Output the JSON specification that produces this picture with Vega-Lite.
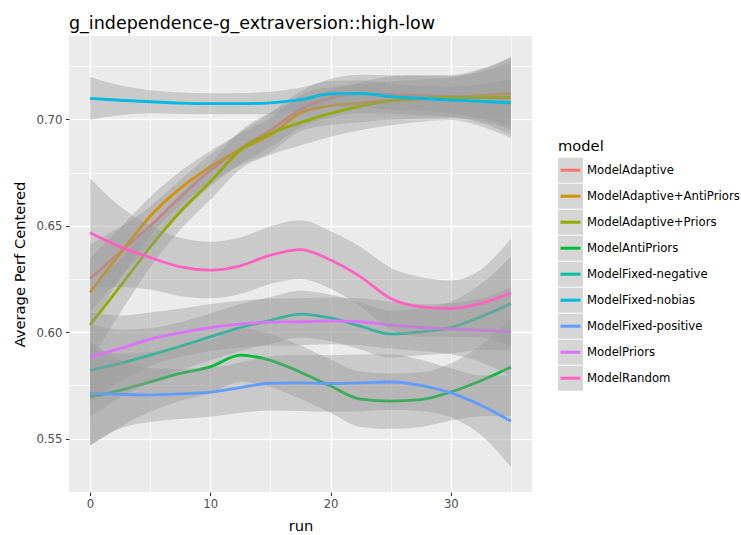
{
"$schema": "https://vega.github.io/schema/vega-lite/v6.json",
"width": 463, "height": 456,
"autosize": {"type": "none"},
"padding": {"left": 69, "top": 36, "right": 209, "bottom": 43},
"background": "white",
"title": {"text": "g_independence-g_extraversion::high-low", "anchor": "start", "frame": "group", "baseline": "alphabetic", "offset": -10, "font": "DejaVu Sans", "fontSize": 17.5, "fontWeight": "normal", "color": "black"},
"data": {"values": [
{"model":"ModelAdaptive","run":0,"y":0.6252,"lo":0.6092,"hi":0.6412},
{"model":"ModelAdaptive","run":2.5,"y":0.6375,"lo":0.6255,"hi":0.6495},
{"model":"ModelAdaptive","run":5,"y":0.6500,"lo":0.6410,"hi":0.6590},
{"model":"ModelAdaptive","run":7.5,"y":0.6635,"lo":0.6555,"hi":0.6715},
{"model":"ModelAdaptive","run":10,"y":0.6760,"lo":0.6685,"hi":0.6835},
{"model":"ModelAdaptive","run":12.5,"y":0.6864,"lo":0.6789,"hi":0.6939},
{"model":"ModelAdaptive","run":15,"y":0.6950,"lo":0.6870,"hi":0.7030},
{"model":"ModelAdaptive","run":17.5,"y":0.7047,"lo":0.6962,"hi":0.7132},
{"model":"ModelAdaptive","run":20,"y":0.7100,"lo":0.7010,"hi":0.7190},
{"model":"ModelAdaptive","run":22.5,"y":0.7120,"lo":0.7030,"hi":0.7210},
{"model":"ModelAdaptive","run":25,"y":0.7117,"lo":0.7027,"hi":0.7207},
{"model":"ModelAdaptive","run":27.5,"y":0.7112,"lo":0.7020,"hi":0.7204},
{"model":"ModelAdaptive","run":30,"y":0.7108,"lo":0.7013,"hi":0.7203},
{"model":"ModelAdaptive","run":32.5,"y":0.7104,"lo":0.6984,"hi":0.7224},
{"model":"ModelAdaptive","run":35,"y":0.7100,"lo":0.6930,"hi":0.7270},
{"model":"ModelAdaptive+AntiPriors","run":0,"y":0.6187,"lo":0.6027,"hi":0.6347},
{"model":"ModelAdaptive+AntiPriors","run":2.5,"y":0.6370,"lo":0.6250,"hi":0.6490},
{"model":"ModelAdaptive+AntiPriors","run":5,"y":0.6545,"lo":0.6455,"hi":0.6635},
{"model":"ModelAdaptive+AntiPriors","run":7.5,"y":0.6676,"lo":0.6596,"hi":0.6756},
{"model":"ModelAdaptive+AntiPriors","run":10,"y":0.6777,"lo":0.6702,"hi":0.6852},
{"model":"ModelAdaptive+AntiPriors","run":12.5,"y":0.6859,"lo":0.6784,"hi":0.6934},
{"model":"ModelAdaptive+AntiPriors","run":15,"y":0.6926,"lo":0.6846,"hi":0.7006},
{"model":"ModelAdaptive+AntiPriors","run":17.5,"y":0.7030,"lo":0.6945,"hi":0.7115},
{"model":"ModelAdaptive+AntiPriors","run":20,"y":0.7064,"lo":0.6974,"hi":0.7154},
{"model":"ModelAdaptive+AntiPriors","run":22.5,"y":0.7077,"lo":0.6987,"hi":0.7167},
{"model":"ModelAdaptive+AntiPriors","run":25,"y":0.7088,"lo":0.6998,"hi":0.7178},
{"model":"ModelAdaptive+AntiPriors","run":27.5,"y":0.7096,"lo":0.7004,"hi":0.7188},
{"model":"ModelAdaptive+AntiPriors","run":30,"y":0.7102,"lo":0.7007,"hi":0.7197},
{"model":"ModelAdaptive+AntiPriors","run":32.5,"y":0.7112,"lo":0.6992,"hi":0.7232},
{"model":"ModelAdaptive+AntiPriors","run":35,"y":0.7122,"lo":0.6952,"hi":0.7292},
{"model":"ModelAdaptive+Priors","run":0,"y":0.6033,"lo":0.5863,"hi":0.6203},
{"model":"ModelAdaptive+Priors","run":2.5,"y":0.6215,"lo":0.6090,"hi":0.6340},
{"model":"ModelAdaptive+Priors","run":5,"y":0.6400,"lo":0.6305,"hi":0.6495},
{"model":"ModelAdaptive+Priors","run":7.5,"y":0.6566,"lo":0.6481,"hi":0.6651},
{"model":"ModelAdaptive+Priors","run":10,"y":0.6707,"lo":0.6622,"hi":0.6792},
{"model":"ModelAdaptive+Priors","run":12.5,"y":0.6856,"lo":0.6766,"hi":0.6946},
{"model":"ModelAdaptive+Priors","run":15,"y":0.6934,"lo":0.6834,"hi":0.7034},
{"model":"ModelAdaptive+Priors","run":17.5,"y":0.6985,"lo":0.6877,"hi":0.7093},
{"model":"ModelAdaptive+Priors","run":20,"y":0.7028,"lo":0.6918,"hi":0.7138},
{"model":"ModelAdaptive+Priors","run":22.5,"y":0.7062,"lo":0.6950,"hi":0.7174},
{"model":"ModelAdaptive+Priors","run":25,"y":0.7088,"lo":0.6973,"hi":0.7203},
{"model":"ModelAdaptive+Priors","run":27.5,"y":0.7099,"lo":0.6989,"hi":0.7209},
{"model":"ModelAdaptive+Priors","run":30,"y":0.7103,"lo":0.6997,"hi":0.7209},
{"model":"ModelAdaptive+Priors","run":32.5,"y":0.7103,"lo":0.6968,"hi":0.7238},
{"model":"ModelAdaptive+Priors","run":35,"y":0.7103,"lo":0.6913,"hi":0.7293},
{"model":"ModelAntiPriors","run":0,"y":0.5696,"lo":0.5466,"hi":0.5926},
{"model":"ModelAntiPriors","run":2.5,"y":0.5727,"lo":0.5555,"hi":0.5899},
{"model":"ModelAntiPriors","run":5,"y":0.5767,"lo":0.5626,"hi":0.5908},
{"model":"ModelAntiPriors","run":7.5,"y":0.5806,"lo":0.5678,"hi":0.5934},
{"model":"ModelAntiPriors","run":10,"y":0.5837,"lo":0.5712,"hi":0.5962},
{"model":"ModelAntiPriors","run":12.5,"y":0.5892,"lo":0.5767,"hi":0.6017},
{"model":"ModelAntiPriors","run":15,"y":0.5868,"lo":0.5743,"hi":0.5993},
{"model":"ModelAntiPriors","run":17.5,"y":0.5812,"lo":0.5687,"hi":0.5937},
{"model":"ModelAntiPriors","run":20,"y":0.5747,"lo":0.5622,"hi":0.5872},
{"model":"ModelAntiPriors","run":22.5,"y":0.5685,"lo":0.5555,"hi":0.5815},
{"model":"ModelAntiPriors","run":25,"y":0.5676,"lo":0.5546,"hi":0.5806},
{"model":"ModelAntiPriors","run":27.5,"y":0.5683,"lo":0.5555,"hi":0.5811},
{"model":"ModelAntiPriors","run":30,"y":0.5719,"lo":0.5584,"hi":0.5854},
{"model":"ModelAntiPriors","run":32.5,"y":0.5772,"lo":0.5605,"hi":0.5939},
{"model":"ModelAntiPriors","run":35,"y":0.5836,"lo":0.5606,"hi":0.6066},
{"model":"ModelFixed-negative","run":0,"y":0.5821,"lo":0.5601,"hi":0.6041},
{"model":"ModelFixed-negative","run":2.5,"y":0.5853,"lo":0.5693,"hi":0.6013},
{"model":"ModelFixed-negative","run":5,"y":0.5892,"lo":0.5765,"hi":0.6019},
{"model":"ModelFixed-negative","run":7.5,"y":0.5934,"lo":0.5821,"hi":0.6047},
{"model":"ModelFixed-negative","run":10,"y":0.5978,"lo":0.5868,"hi":0.6088},
{"model":"ModelFixed-negative","run":12.5,"y":0.6022,"lo":0.5912,"hi":0.6132},
{"model":"ModelFixed-negative","run":15,"y":0.6056,"lo":0.5946,"hi":0.6166},
{"model":"ModelFixed-negative","run":17.5,"y":0.6085,"lo":0.5975,"hi":0.6195},
{"model":"ModelFixed-negative","run":20,"y":0.6067,"lo":0.5957,"hi":0.6177},
{"model":"ModelFixed-negative","run":22.5,"y":0.6028,"lo":0.5918,"hi":0.6138},
{"model":"ModelFixed-negative","run":25,"y":0.5991,"lo":0.5881,"hi":0.6101},
{"model":"ModelFixed-negative","run":27.5,"y":0.6002,"lo":0.5892,"hi":0.6112},
{"model":"ModelFixed-negative","run":30,"y":0.6022,"lo":0.5901,"hi":0.6143},
{"model":"ModelFixed-negative","run":32.5,"y":0.6072,"lo":0.5918,"hi":0.6226},
{"model":"ModelFixed-negative","run":35,"y":0.6135,"lo":0.5915,"hi":0.6355},
{"model":"ModelFixed-nobias","run":0,"y":0.7099,"lo":0.6999,"hi":0.7199},
{"model":"ModelFixed-nobias","run":2.5,"y":0.7090,"lo":0.7020,"hi":0.7160},
{"model":"ModelFixed-nobias","run":5,"y":0.7083,"lo":0.7029,"hi":0.7137},
{"model":"ModelFixed-nobias","run":7.5,"y":0.7077,"lo":0.7027,"hi":0.7127},
{"model":"ModelFixed-nobias","run":10,"y":0.7074,"lo":0.7025,"hi":0.7123},
{"model":"ModelFixed-nobias","run":12.5,"y":0.7074,"lo":0.7024,"hi":0.7124},
{"model":"ModelFixed-nobias","run":15,"y":0.7078,"lo":0.7026,"hi":0.7130},
{"model":"ModelFixed-nobias","run":17.5,"y":0.7093,"lo":0.7037,"hi":0.7149},
{"model":"ModelFixed-nobias","run":20,"y":0.7120,"lo":0.7060,"hi":0.7180},
{"model":"ModelFixed-nobias","run":22.5,"y":0.7122,"lo":0.7060,"hi":0.7184},
{"model":"ModelFixed-nobias","run":25,"y":0.7107,"lo":0.7047,"hi":0.7167},
{"model":"ModelFixed-nobias","run":27.5,"y":0.7099,"lo":0.7041,"hi":0.7157},
{"model":"ModelFixed-nobias","run":30,"y":0.7091,"lo":0.7029,"hi":0.7153},
{"model":"ModelFixed-nobias","run":32.5,"y":0.7085,"lo":0.7005,"hi":0.7165},
{"model":"ModelFixed-nobias","run":35,"y":0.7078,"lo":0.6968,"hi":0.7188},
{"model":"ModelFixed-positive","run":0,"y":0.5713,"lo":0.5469,"hi":0.5957},
{"model":"ModelFixed-positive","run":2.5,"y":0.5708,"lo":0.5548,"hi":0.5868},
{"model":"ModelFixed-positive","run":5,"y":0.5705,"lo":0.5578,"hi":0.5832},
{"model":"ModelFixed-positive","run":7.5,"y":0.5710,"lo":0.5592,"hi":0.5828},
{"model":"ModelFixed-positive","run":10,"y":0.5718,"lo":0.5603,"hi":0.5833},
{"model":"ModelFixed-positive","run":12.5,"y":0.5740,"lo":0.5622,"hi":0.5858},
{"model":"ModelFixed-positive","run":15,"y":0.5760,"lo":0.5632,"hi":0.5888},
{"model":"ModelFixed-positive","run":17.5,"y":0.5762,"lo":0.5630,"hi":0.5894},
{"model":"ModelFixed-positive","run":20,"y":0.5759,"lo":0.5626,"hi":0.5892},
{"model":"ModelFixed-positive","run":22.5,"y":0.5762,"lo":0.5629,"hi":0.5895},
{"model":"ModelFixed-positive","run":25,"y":0.5766,"lo":0.5636,"hi":0.5896},
{"model":"ModelFixed-positive","run":27.5,"y":0.5750,"lo":0.5630,"hi":0.5870},
{"model":"ModelFixed-positive","run":30,"y":0.5715,"lo":0.5600,"hi":0.5830},
{"model":"ModelFixed-positive","run":32.5,"y":0.5657,"lo":0.5517,"hi":0.5797},
{"model":"ModelFixed-positive","run":35,"y":0.5582,"lo":0.5367,"hi":0.5797},
{"model":"ModelPriors","run":0,"y":0.5884,"lo":0.5674,"hi":0.6094},
{"model":"ModelPriors","run":2.5,"y":0.5923,"lo":0.5768,"hi":0.6078},
{"model":"ModelPriors","run":5,"y":0.5967,"lo":0.5842,"hi":0.6092},
{"model":"ModelPriors","run":7.5,"y":0.5997,"lo":0.5884,"hi":0.6110},
{"model":"ModelPriors","run":10,"y":0.6022,"lo":0.5912,"hi":0.6132},
{"model":"ModelPriors","run":12.5,"y":0.6038,"lo":0.5928,"hi":0.6148},
{"model":"ModelPriors","run":15,"y":0.6047,"lo":0.5937,"hi":0.6157},
{"model":"ModelPriors","run":17.5,"y":0.6049,"lo":0.5939,"hi":0.6159},
{"model":"ModelPriors","run":20,"y":0.6053,"lo":0.5943,"hi":0.6163},
{"model":"ModelPriors","run":22.5,"y":0.6049,"lo":0.5939,"hi":0.6159},
{"model":"ModelPriors","run":25,"y":0.6033,"lo":0.5923,"hi":0.6143},
{"model":"ModelPriors","run":27.5,"y":0.6022,"lo":0.5912,"hi":0.6132},
{"model":"ModelPriors","run":30,"y":0.6016,"lo":0.5896,"hi":0.6136},
{"model":"ModelPriors","run":32.5,"y":0.6009,"lo":0.5859,"hi":0.6159},
{"model":"ModelPriors","run":35,"y":0.6002,"lo":0.5792,"hi":0.6212},
{"model":"ModelRandom","run":0,"y":0.6467,"lo":0.6212,"hi":0.6722},
{"model":"ModelRandom","run":2.5,"y":0.6401,"lo":0.6211,"hi":0.6591},
{"model":"ModelRandom","run":5,"y":0.6351,"lo":0.6201,"hi":0.6501},
{"model":"ModelRandom","run":7.5,"y":0.6307,"lo":0.6170,"hi":0.6444},
{"model":"ModelRandom","run":10,"y":0.6292,"lo":0.6159,"hi":0.6425},
{"model":"ModelRandom","run":12.5,"y":0.6312,"lo":0.6179,"hi":0.6445},
{"model":"ModelRandom","run":15,"y":0.6362,"lo":0.6227,"hi":0.6497},
{"model":"ModelRandom","run":17.5,"y":0.6388,"lo":0.6250,"hi":0.6526},
{"model":"ModelRandom","run":20,"y":0.6339,"lo":0.6204,"hi":0.6474},
{"model":"ModelRandom","run":22.5,"y":0.6260,"lo":0.6120,"hi":0.6400},
{"model":"ModelRandom","run":25,"y":0.6158,"lo":0.6013,"hi":0.6303},
{"model":"ModelRandom","run":27.5,"y":0.6119,"lo":0.5979,"hi":0.6259},
{"model":"ModelRandom","run":30,"y":0.6111,"lo":0.5979,"hi":0.6243},
{"model":"ModelRandom","run":32.5,"y":0.6135,"lo":0.5975,"hi":0.6295},
{"model":"ModelRandom","run":35,"y":0.6185,"lo":0.5930,"hi":0.6440}
]},
"encoding": {
  "x": {"field": "run", "type": "quantitative", "title": "run",
    "scale": {"domain": [-1.75, 36.75], "nice": false, "zero": false},
    "axis": {"values": [0,5,10,15,20,25,30,35],
      "labelExpr": "datum.value % 10 === 0 ? datum.label : ''",
      "gridWidth": {"condition": {"test": "datum.value % 10 === 0", "value": 1.4}, "value": 0.7},
      "tickOpacity": {"condition": {"test": "datum.value % 10 === 0", "value": 1}, "value": 0},
      "labelPadding": 3, "titlePadding": 8}}
},
"layer": [
{"transform":[{"filter":{"field":"model","equal":"ModelAdaptive"}}],"mark":{"type":"area","interpolate":"monotone","opacity":0.4},"encoding":{"y":{"field":"lo","type":"quantitative","title":"Average Perf Centered","scale":{"domain":[0.5249,0.7392],"nice":false,"zero":false},"axis":{"values":[0.525,0.55,0.575,0.6,0.625,0.65,0.675,0.7,0.725],"labelExpr":"abs(datum.value*20-round(datum.value*20))<0.001 ? format(datum.value,'.2f') : ''","gridWidth":{"condition":{"test":"abs(datum.value*20-round(datum.value*20))<0.001","value":1.4},"value":0.7},"tickOpacity":{"condition":{"test":"abs(datum.value*20-round(datum.value*20))<0.001","value":1},"value":0},"labelPadding":3.5,"titlePadding":8}},"y2":{"field":"hi"},"color":{"field":"model","type":"nominal","scale":{"range":["#999999","#999999","#999999","#999999","#999999","#999999","#999999","#999999","#999999"]},"legend":{"orient":"none","legendX":489,"legendY":103,"title":"model","symbolType":"square","symbolSize":625,"symbolStrokeWidth":0,"symbolOpacity":0.5,"rowPadding":1,"labelOffset":4,"padding":0,"titlePadding":4}}}},
{"transform":[{"filter":{"field":"model","equal":"ModelAdaptive"}}],"mark":{"type":"line","interpolate":"monotone","strokeWidth":2.8},"encoding":{"y":{"field":"y","type":"quantitative","title":"Average Perf Centered","scale":{"domain":[0.5249,0.7392],"nice":false,"zero":false}},"stroke":{"field":"model","type":"nominal","scale":{"domain":["ModelAdaptive","ModelAdaptive+AntiPriors","ModelAdaptive+Priors","ModelAntiPriors","ModelFixed-negative","ModelFixed-nobias","ModelFixed-positive","ModelPriors","ModelRandom"],"range":["#F8766D","#D39200","#93AA00","#00BA38","#00C19F","#00B9E3","#619CFF","#DB72FB","#FF61C3"]},"legend":{"orient":"none","legendX":489,"legendY":103,"title":"model","symbolType":"M-0.5909,-0.5909L-0.5909,-0.5909M-0.909,0L0.909,0M0.5909,0.5909L0.5909,0.5909","symbolSize":484,"symbolStrokeWidth":3,"rowPadding":1,"labelOffset":4,"padding":0,"titlePadding":4,"labelColor":"transparent","titleColor":"transparent","zindex":1}}}},
{"transform":[{"filter":{"field":"model","equal":"ModelAdaptive+AntiPriors"}}],"mark":{"type":"area","interpolate":"monotone","opacity":0.4},"encoding":{"y":{"field":"lo","type":"quantitative","title":"Average Perf Centered","scale":{"domain":[0.5249,0.7392],"nice":false,"zero":false}},"y2":{"field":"hi"},"color":{"field":"model","type":"nominal"}}},
{"transform":[{"filter":{"field":"model","equal":"ModelAdaptive+AntiPriors"}}],"mark":{"type":"line","interpolate":"monotone","strokeWidth":2.8},"encoding":{"y":{"field":"y","type":"quantitative","title":"Average Perf Centered","scale":{"domain":[0.5249,0.7392],"nice":false,"zero":false}},"stroke":{"field":"model","type":"nominal"}}},
{"transform":[{"filter":{"field":"model","equal":"ModelAdaptive+Priors"}}],"mark":{"type":"area","interpolate":"monotone","opacity":0.4},"encoding":{"y":{"field":"lo","type":"quantitative","title":"Average Perf Centered","scale":{"domain":[0.5249,0.7392],"nice":false,"zero":false}},"y2":{"field":"hi"},"color":{"field":"model","type":"nominal"}}},
{"transform":[{"filter":{"field":"model","equal":"ModelAdaptive+Priors"}}],"mark":{"type":"line","interpolate":"monotone","strokeWidth":2.8},"encoding":{"y":{"field":"y","type":"quantitative","title":"Average Perf Centered","scale":{"domain":[0.5249,0.7392],"nice":false,"zero":false}},"stroke":{"field":"model","type":"nominal"}}},
{"transform":[{"filter":{"field":"model","equal":"ModelAntiPriors"}}],"mark":{"type":"area","interpolate":"monotone","opacity":0.4},"encoding":{"y":{"field":"lo","type":"quantitative","title":"Average Perf Centered","scale":{"domain":[0.5249,0.7392],"nice":false,"zero":false}},"y2":{"field":"hi"},"color":{"field":"model","type":"nominal"}}},
{"transform":[{"filter":{"field":"model","equal":"ModelAntiPriors"}}],"mark":{"type":"line","interpolate":"monotone","strokeWidth":2.8},"encoding":{"y":{"field":"y","type":"quantitative","title":"Average Perf Centered","scale":{"domain":[0.5249,0.7392],"nice":false,"zero":false}},"stroke":{"field":"model","type":"nominal"}}},
{"transform":[{"filter":{"field":"model","equal":"ModelFixed-negative"}}],"mark":{"type":"area","interpolate":"monotone","opacity":0.4},"encoding":{"y":{"field":"lo","type":"quantitative","title":"Average Perf Centered","scale":{"domain":[0.5249,0.7392],"nice":false,"zero":false}},"y2":{"field":"hi"},"color":{"field":"model","type":"nominal"}}},
{"transform":[{"filter":{"field":"model","equal":"ModelFixed-negative"}}],"mark":{"type":"line","interpolate":"monotone","strokeWidth":2.8},"encoding":{"y":{"field":"y","type":"quantitative","title":"Average Perf Centered","scale":{"domain":[0.5249,0.7392],"nice":false,"zero":false}},"stroke":{"field":"model","type":"nominal"}}},
{"transform":[{"filter":{"field":"model","equal":"ModelFixed-nobias"}}],"mark":{"type":"area","interpolate":"monotone","opacity":0.4},"encoding":{"y":{"field":"lo","type":"quantitative","title":"Average Perf Centered","scale":{"domain":[0.5249,0.7392],"nice":false,"zero":false}},"y2":{"field":"hi"},"color":{"field":"model","type":"nominal"}}},
{"transform":[{"filter":{"field":"model","equal":"ModelFixed-nobias"}}],"mark":{"type":"line","interpolate":"monotone","strokeWidth":2.8},"encoding":{"y":{"field":"y","type":"quantitative","title":"Average Perf Centered","scale":{"domain":[0.5249,0.7392],"nice":false,"zero":false}},"stroke":{"field":"model","type":"nominal"}}},
{"transform":[{"filter":{"field":"model","equal":"ModelFixed-positive"}}],"mark":{"type":"area","interpolate":"monotone","opacity":0.4},"encoding":{"y":{"field":"lo","type":"quantitative","title":"Average Perf Centered","scale":{"domain":[0.5249,0.7392],"nice":false,"zero":false}},"y2":{"field":"hi"},"color":{"field":"model","type":"nominal"}}},
{"transform":[{"filter":{"field":"model","equal":"ModelFixed-positive"}}],"mark":{"type":"line","interpolate":"monotone","strokeWidth":2.8},"encoding":{"y":{"field":"y","type":"quantitative","title":"Average Perf Centered","scale":{"domain":[0.5249,0.7392],"nice":false,"zero":false}},"stroke":{"field":"model","type":"nominal"}}},
{"transform":[{"filter":{"field":"model","equal":"ModelPriors"}}],"mark":{"type":"area","interpolate":"monotone","opacity":0.4},"encoding":{"y":{"field":"lo","type":"quantitative","title":"Average Perf Centered","scale":{"domain":[0.5249,0.7392],"nice":false,"zero":false}},"y2":{"field":"hi"},"color":{"field":"model","type":"nominal"}}},
{"transform":[{"filter":{"field":"model","equal":"ModelPriors"}}],"mark":{"type":"line","interpolate":"monotone","strokeWidth":2.8},"encoding":{"y":{"field":"y","type":"quantitative","title":"Average Perf Centered","scale":{"domain":[0.5249,0.7392],"nice":false,"zero":false}},"stroke":{"field":"model","type":"nominal"}}},
{"transform":[{"filter":{"field":"model","equal":"ModelRandom"}}],"mark":{"type":"area","interpolate":"monotone","opacity":0.4},"encoding":{"y":{"field":"lo","type":"quantitative","title":"Average Perf Centered","scale":{"domain":[0.5249,0.7392],"nice":false,"zero":false}},"y2":{"field":"hi"},"color":{"field":"model","type":"nominal"}}},
{"transform":[{"filter":{"field":"model","equal":"ModelRandom"}}],"mark":{"type":"line","interpolate":"monotone","strokeWidth":2.8},"encoding":{"y":{"field":"y","type":"quantitative","title":"Average Perf Centered","scale":{"domain":[0.5249,0.7392],"nice":false,"zero":false}},"stroke":{"field":"model","type":"nominal"}}}
],
"config": {
  "view": {"fill": "#EBEBEB", "stroke": null},
  "axis": {"domain": false, "gridColor": "white", "tickColor": "#333333", "tickWidth": 1.1, "tickSize": 3.5,
    "labelColor": "#4D4D4D", "labelFont": "DejaVu Sans", "labelFontSize": 11.7, "labelOverlap": false,
    "titleFont": "DejaVu Sans", "titleFontSize": 14.7, "titleFontWeight": "normal", "titleColor": "black"},
  "legend": {"labelFont": "DejaVu Sans", "labelFontSize": 11.7, "labelColor": "black",
    "titleFont": "DejaVu Sans", "titleFontSize": 14.7, "titleFontWeight": "normal", "titleColor": "black"}
}
}
